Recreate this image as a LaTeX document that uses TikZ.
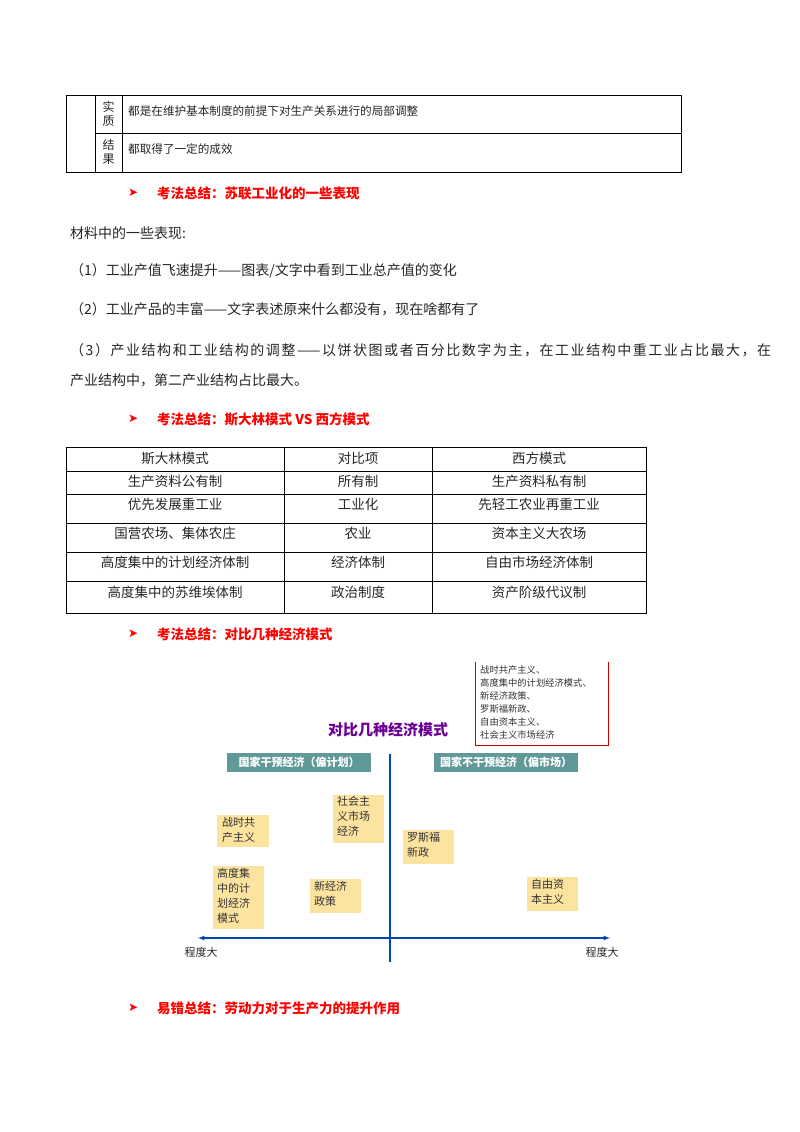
\documentclass[tikz,border=0pt]{standalone}
\usepackage{fontspec}
\setmainfont{Noto Sans CJK SC}
\newfontfamily\djv{DejaVu Sans}
\begin{document}
\begin{tikzpicture}[x=1pt,y=-1pt,
  txt/.style={anchor=west,inner sep=0pt,font=\fontsize{14}{16}\selectfont,text=black!85},
  ctxt/.style={inner sep=0pt,font=\fontsize{13.5}{15}\selectfont,text=black!85},
  head/.style={anchor=west,inner sep=0pt,font=\fontsize{13.5}{15}\selectfont\bfseries,text=red},
  arr/.style={anchor=west,inner sep=0pt,font=\djv\fontsize{12}{14}\selectfont,text=red},
  stxt/.style={anchor=north west,inner sep=0pt,align=left,font=\fontsize{11}{15}\selectfont,text=black!80},
  tealbox/.style={fill=teal!55!gray!80,text=white,font=\fontsize{11}{12}\selectfont\bfseries,inner sep=0pt,minimum height=19pt,minimum width=144pt},
  ax/.style={draw=blue!60!cyan!70!black,line width=1.2pt}]
\useasboundingbox (0,0) rectangle (800,1132);
% top table
\draw[line width=0.6pt] (66,95) rectangle (681,172);
\draw[line width=0.6pt] (95,95) -- (95,172) (122,95) -- (122,172) (95,133) -- (681,133);
\node[ctxt,align=center,font=\fontsize{12}{14}\selectfont] (s1) at (108.5,114) {实\\质};
\node[ctxt,align=center,font=\fontsize{12}{14}\selectfont] (s2) at (108.5,152) {结\\果};
\node[txt,font=\fontsize{11.6}{14}\selectfont] (t1) at (128,111) {都是在维护基本制度的前提下对生产关系进行的局部调整};
\node[txt,font=\fontsize{11.6}{14}\selectfont] (t2) at (128,149) {都取得了一定的成效};
% heading 1
\node[arr] (a1) at (128,193) {➤};
\node[head] (h1) at (157,193) {考法总结：苏联工业化的一些表现};
\node[txt] (p0) at (70,233) {材料中的一些表现:};
\node[txt] (p1) at (70,271) {（1）工业产值飞速提升——图表/文字中看到工业总产值的变化};
\node[txt] (p2) at (70,309) {（2）工业产品的丰富——文字表述原来什么都没有，现在啥都有了};
\node[txt] (p3) at (70,350) {\addfontfeature{LetterSpace=11}（3）产业结构和工业结构的调整——以饼状图或者百分比数字为主，在工业结构中重工业占比最大，在};
\node[txt] (p4) at (70,380) {产业结构中，第二产业结构占比最大。};
% heading 2
\node[arr] (a2) at (128,419) {➤};
\node[head] (h2) at (157,419) {考法总结：斯大林模式 VS 西方模式};
% table 2
\draw[line width=0.6pt] (66,447) rectangle (646,613);
\foreach \y in {471,494,523,552,581} \draw[line width=0.6pt] (66,\y) -- (646,\y);
\draw[line width=0.6pt] (284,447) -- (284,613) (432,447) -- (432,613);
\foreach \a/\b/\c/\y [count=\i] in {斯大林模式/对比项/西方模式/458,生产资料公有制/所有制/生产资料私有制/481,优先发展重工业/工业化/先轻工农业再重工业/504,国营农场、集体农庄/农业/资本主义大农场/533,高度集中的计划经济体制/经济体制/自由市场经济体制/562,高度集中的苏维埃体制/政治制度/资产阶级代议制/592}{
  \node[ctxt] (ca\i) at (175,\y) {\a};
  \node[ctxt] (cb\i) at (358,\y) {\b};
  \node[ctxt] (cc\i) at (539,\y) {\c};
}
% heading 3
\node[arr] (a3) at (128,634) {➤};
\node[head] (h3) at (157,634) {考法总结：对比几种经济模式};
% chart
\draw[red!80!black,line width=0.8pt] (475,662) -- (475,745) -- (608,745) -- (608,662);
\node[stxt,font=\fontsize{9.3}{13}\selectfont] (lst) at (480,665) {战时共产主义、\\高度集中的计划经济模式、\\新经济政策、\\罗斯福新政、\\自由资本主义、\\社会主义市场经济};
\node[inner sep=0pt,font=\fontsize{15}{16}\selectfont\bfseries,text=violet!85!blue] (title) at (388,730) {对比几种经济模式};
\node[tealbox] (lb) at (299,762) {国家干预经济（偏计划）};
\node[tealbox] (rb) at (506,762) {国家不干预经济（偏市场）};
\coordinate (vt) at (390,754);
\coordinate (vb) at (390,962);
\coordinate (hl) at (198,938);
\coordinate (hr) at (610,938);
\draw[ax] (vt) -- (vb);
\draw[ax,<->,>=latex] (hl) -- (hr);
\node[ctxt,font=\fontsize{11}{12}\selectfont] (l1) at (201,952) {程度大};
\node[ctxt,font=\fontsize{11}{12}\selectfont] (l2) at (602,952) {程度大};
\fill[yellow!45!orange!35] (217,815) rectangle (269,847);
\node[stxt] (y1) at (222,817) {战时共\\产主义};
\fill[yellow!45!orange!35] (333,795) rectangle (384,843);
\node[stxt] (y2) at (337,796) {社会主\\义市场\\经济};
\fill[yellow!45!orange!35] (403,830) rectangle (454,864);
\node[stxt] (y3) at (407,832) {罗斯福\\新政};
\fill[yellow!45!orange!35] (213,866) rectangle (264,929);
\node[stxt] (y4) at (217,868) {高度集\\中的计\\划经济\\模式};
\fill[yellow!45!orange!35] (310,879) rectangle (361,913);
\node[stxt] (y5) at (314,881) {新经济\\政策};
\fill[yellow!45!orange!35] (527,877) rectangle (578,911);
\node[stxt] (y6) at (531,879) {自由资\\本主义};
% heading 4
\node[arr] (a4) at (128,1008) {➤};
\node[head] (h4) at (157,1008) {易错总结：劳动力对于生产力的提升作用};
\end{tikzpicture}
\end{document}
